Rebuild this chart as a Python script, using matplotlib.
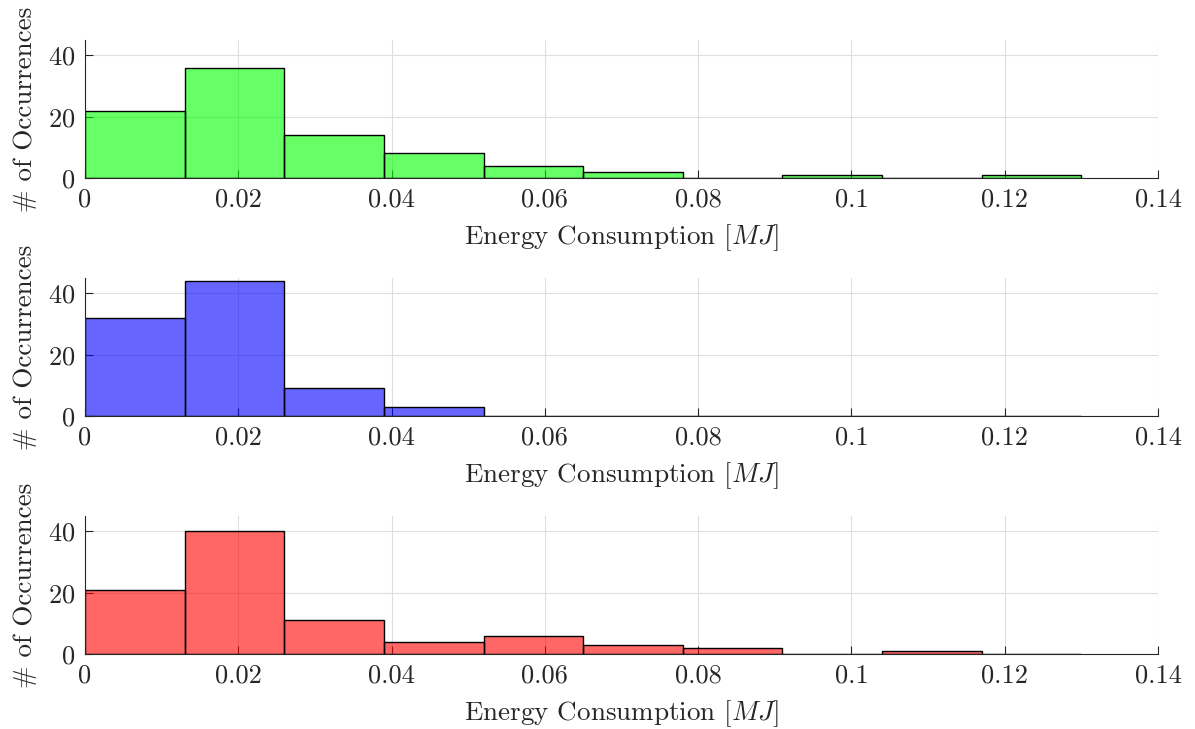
import matplotlib
matplotlib.use("Agg")
import matplotlib.pyplot as plt
import numpy as np

# histogram bins (MJ) and counts per bin
bin_edges = [0, 0.013, 0.026, 0.039, 0.052, 0.065, 0.078, 0.091, 0.104, 0.117, 0.13]
counts_green = [22, 36, 14, 8, 4, 2, 0, 1, 0, 1]
counts_blue = [32, 44, 9, 3, 0, 0, 0, 0, 0, 0]
counts_red = [21, 40, 11, 4, 6, 3, 2, 0, 1, 0]

colors = ['#00ff00', '#0000ff', '#ff0000']
series = [counts_green, counts_blue, counts_red]

plt.rcParams['font.family'] = ['cmr10', 'DejaVu Serif']
plt.rcParams['mathtext.fontset'] = 'cm'
plt.rcParams['axes.formatter.use_mathtext'] = True

fig = plt.figure(figsize=(11.95, 7.29), dpi=100)

edges = np.array(bin_edges)
lefts = edges[:-1]
widths = np.diff(edges)

# axes positions in pixels from the top
tops = [40, 278, 516]
height = 138
for i, (counts, col) in enumerate(zip(series, colors)):
    ax = fig.add_axes([85 / 1195, 1 - (tops[i] + height) / 729, (1158 - 85) / 1195, height / 729])
    ax.set_axisbelow(True)
    ax.grid(True, color='#dedede', linewidth=0.8)
    ax.bar(lefts, counts, width=widths, align='edge', color=col, alpha=0.6,
           edgecolor='none', zorder=2)
    ax.bar(lefts, counts, width=widths, align='edge', fill=False,
           edgecolor='black', linewidth=1.0, zorder=3)
    ax.set_xlim(0, 0.14)
    ax.set_ylim(0, 45)
    ax.set_xticks([0, 0.02, 0.04, 0.06, 0.08, 0.1, 0.12, 0.14])
    ax.set_xticklabels(['0', '0.02', '0.04', '0.06', '0.08', '0.1', '0.12', '0.14'])
    ax.set_yticks([0, 20, 40])
    for s in ['top', 'right']:
        ax.spines[s].set_visible(False)
    for s in ['left', 'bottom']:
        ax.spines[s].set_color('#262626')
        ax.spines[s].set_linewidth(0.8)
        ax.spines[s].set_zorder(4)
    ax.tick_params(direction='in', length=6, width=0.8, colors='#262626',
                   labelsize=19, labelcolor='#262626', pad=7)
    ax.set_xlabel(r'Energy Consumption $[MJ]$', fontsize=19.5, color='#262626', labelpad=7.5)
    ax.set_ylabel('# of Occurrences', fontsize=19.5, color='#262626', labelpad=8)

fig.savefig('out.png', dpi=100)
